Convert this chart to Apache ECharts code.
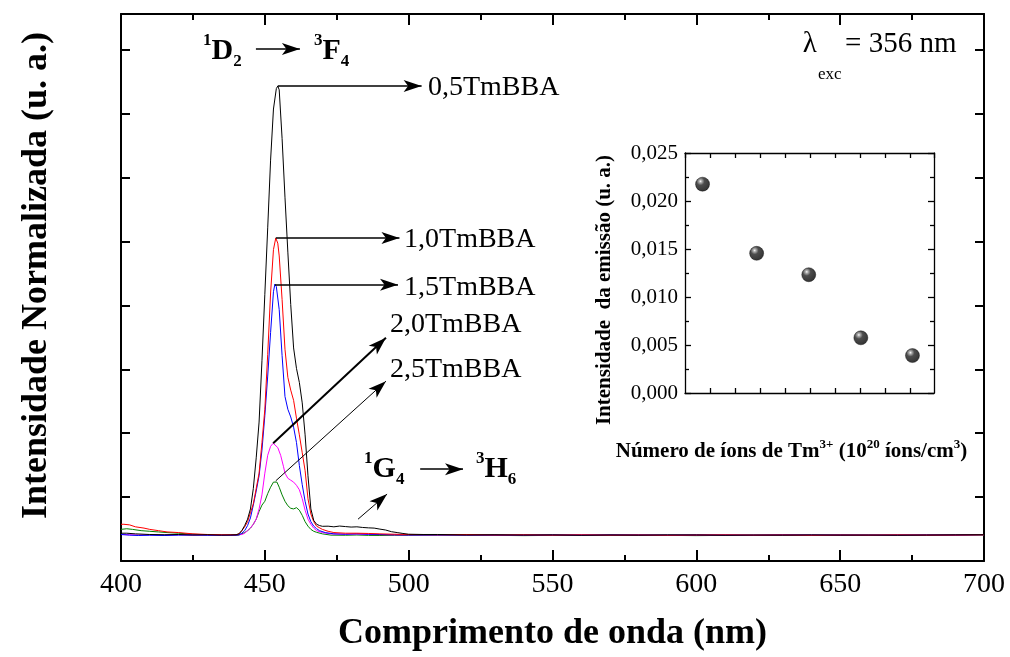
<!DOCTYPE html>
<html>
<head>
<meta charset="utf-8">
<script src="https://cdn.jsdelivr.net/npm/echarts@6/dist/echarts.min.js"></script>
<style>
  html, body { margin: 0; padding: 0; background: #ffffff; }
  #chart { width: 1010px; height: 657px; }
</style>
</head>
<body>
<div id="chart"></div>
<script>
// Emission spectra (wavelength in nm, normalised intensity in arbitrary units)
const spec05 = [
  [400,0.030],[402,0.030],[405,0.025],[410,0.020],[415,0.018],[420,0.020],[425,0.016],[430,0.018],[435,0.015],[438,0.016],
  [440,0.018],[441,0.025],[442,0.050],[443,0.090],[444,0.140],[445,0.220],[446,0.380],[447,0.620],[448,0.900],[449,1.380],
  [450,1.900],[451,2.420],[452,2.950],[453,3.350],[454,3.510],[454.5,3.530],[455,3.500],[456,3.120],[457,2.660],[458,2.230],
  [459,1.820],[460,1.480],[461,1.320],[462,1.210],[463,1.050],[464,0.800],[465,0.480],[466,0.220],[467,0.130],[468,0.100],
  [469,0.090],[470,0.084],[472,0.085],[474,0.080],[476,0.086],[478,0.082],[480,0.078],[482,0.080],[484,0.075],[486,0.072],
  [488,0.070],[490,0.062],[492,0.055],[494,0.042],[496,0.035],[498,0.028],[500,0.022],[505,0.020],[510,0.020],[520,0.016],
  [530,0.018],[540,0.015],[550,0.017],[560,0.014],[570,0.016],[580,0.015],[590,0.017],[600,0.016],[610,0.014],[620,0.016],
  [630,0.015],[640,0.017],[650,0.015],[660,0.016],[670,0.014],[680,0.016],[690,0.017],[700,0.018]
];
const spec10 = [
  [400,0.100],[401,0.100],[403,0.095],[405,0.080],[408,0.070],[410,0.060],[413,0.050],[416,0.040],[420,0.035],[425,0.025],
  [430,0.020],[435,0.018],[440,0.018],[441,0.025],[442,0.050],[443,0.080],[444,0.120],[445,0.190],[446,0.260],[447,0.380],
  [448,0.500],[449,0.740],[450,1.000],[451,1.430],[452,1.910],[453,2.250],[453.8,2.340],[454.5,2.300],[455,2.200],[456,1.860],
  [457,1.470],[458,1.250],[459,1.150],[460,1.070],[461,0.930],[462,0.800],[463,0.660],[464,0.520],[465,0.300],[466,0.180],
  [467,0.120],[468,0.085],[470,0.060],[472,0.045],[474,0.035],[478,0.030],[482,0.030],[486,0.028],[490,0.025],[495,0.022],
  [500,0.020],[510,0.018],[520,0.020],[530,0.016],[540,0.018],[550,0.015],[560,0.017],[570,0.015],[580,0.016],[590,0.014],
  [600,0.016],[610,0.017],[620,0.015],[630,0.016],[640,0.014],[650,0.016],[660,0.015],[670,0.017],[680,0.015],[690,0.016],[700,0.018]
];
const spec15 = [
  [400,0.020],[403,0.015],[406,0.012],[410,0.014],[415,0.012],[420,0.015],[425,0.016],[430,0.014],[435,0.015],[440,0.015],
  [441,0.018],[442,0.030],[443,0.050],[444,0.090],[445,0.150],[446,0.250],[447,0.360],[448,0.480],[449,0.680],[450,0.950],
  [451,1.260],[452,1.600],[453,1.920],[453.5,1.980],[454,1.960],[455,1.780],[456,1.420],[457,1.100],[458,1.000],[459,0.940],
  [460,0.860],[461,0.740],[462,0.560],[463,0.410],[464,0.280],[465,0.180],[466,0.120],[467,0.085],[468,0.065],[469,0.050],
  [471,0.035],[474,0.025],[478,0.022],[482,0.025],[486,0.022],[490,0.020],[495,0.018],[500,0.017],[510,0.016],[520,0.018],
  [530,0.015],[540,0.017],[550,0.016],[560,0.014],[570,0.017],[580,0.016],[590,0.015],[600,0.017],[610,0.015],[620,0.014],
  [630,0.016],[640,0.015],[650,0.017],[660,0.014],[670,0.016],[680,0.015],[690,0.017],[700,0.019]
];
const spec20 = [
  [400,0.020],[403,0.018],[406,0.016],[410,0.018],[415,0.015],[420,0.018],[425,0.015],[430,0.016],[435,0.014],[440,0.016],
  [442,0.020],[443,0.030],[444,0.050],[445,0.070],[446,0.100],[447,0.140],[448,0.220],[449,0.330],[450,0.500],[451,0.640],
  [452,0.710],[452.9,0.734],[453.5,0.730],[454.5,0.700],[455.5,0.640],[456.5,0.550],[457,0.500],[458,0.460],[459,0.445],[460,0.430],
  [461,0.405],[462,0.370],[463,0.300],[464,0.210],[465,0.140],[466,0.100],[467,0.070],[468,0.050],[470,0.035],[473,0.025],
  [478,0.022],[482,0.024],[486,0.020],[490,0.019],[495,0.017],[500,0.016],[510,0.017],[520,0.015],[530,0.016],[540,0.014],
  [550,0.016],[560,0.017],[570,0.015],[580,0.016],[590,0.014],[600,0.015],[610,0.016],[620,0.015],[630,0.017],[640,0.016],
  [650,0.014],[660,0.016],[670,0.015],[680,0.017],[690,0.015],[700,0.018]
];
const spec25 = [
  [400,0.060],[402,0.065],[404,0.060],[407,0.050],[410,0.045],[413,0.040],[416,0.035],[420,0.030],[425,0.022],[430,0.018],
  [435,0.015],[440,0.012],[441,0.015],[442,0.025],[443,0.035],[444,0.050],[445,0.070],[446,0.100],[447,0.140],[448,0.200],
  [449,0.250],[450,0.280],[451,0.340],[452,0.390],[453,0.430],[453.5,0.440],[454.2,0.430],[455,0.390],[456,0.330],[457,0.280],
  [458,0.245],[459,0.225],[460,0.220],[461,0.230],[462,0.210],[463,0.170],[464,0.120],[465,0.085],[466,0.060],[467,0.045],
  [468,0.037],[470,0.025],[473,0.015],[478,0.014],[482,0.016],[486,0.013],[490,0.012],[495,0.013],[500,0.012],[510,0.014],
  [520,0.012],[530,0.013],[540,0.011],[550,0.013],[560,0.012],[570,0.014],[580,0.012],[590,0.013],[600,0.011],[610,0.013],
  [620,0.012],[630,0.014],[640,0.012],[650,0.013],[660,0.012],[670,0.014],[680,0.013],[690,0.014],[700,0.016]
];

// Inset: emission intensity versus Tm3+ ion content
const ionDensity = [1.10, 2.18, 3.22, 4.26, 5.29];
const emissionIntensity = [0.02175, 0.01455, 0.01232, 0.00575, 0.0039];

const sampleNames = ['0,5TmBBA', '1,0TmBBA', '1,5TmBBA', '2,0TmBBA', '2,5TmBBA'];
const sampleColors = ['#000000', '#ff0000', '#0000ff', '#ff00ff', '#008000'];
const spectra = [spec05, spec10, spec15, spec20, spec25];

const SERIF = '"Liberation Serif", "Times New Roman", serif';

const yMin = -0.1875, yMax = 4.09375;
const wMin = 400, wMax = 700;
const nMin = 0.75, nMax = 5.72;
const iMin = 0, iMax = 0.025;

const chart = echarts.init(document.getElementById('chart'), null, { renderer: 'canvas' });

const frameLine = () => ({ show: true, onZero: false, lineStyle: { color: '#000', width: 2 } });
const insetLine = () => ({ show: true, onZero: false, lineStyle: { color: '#000', width: 1.3 } });

// text anchored at a data coordinate
function textPoint(coord, formatter, style) {
  return {
    coord: coord,
    symbol: 'circle',
    symbolSize: 0,
    label: Object.assign({
      show: true,
      position: 'right',
      distance: 0,
      formatter: formatter,
      color: '#000',
      fontFamily: SERIF,
      fontSize: 28
    }, style || {})
  };
}

const boldRich = {
  big: { fontFamily: SERIF, fontSize: 30, fontWeight: 'bold', color: '#000', lineHeight: 38 },
  sup: { fontFamily: SERIF, fontSize: 17, fontWeight: 'bold', color: '#000', verticalAlign: 'top', lineHeight: 38 },
  sub: { fontFamily: SERIF, fontSize: 17, fontWeight: 'bold', color: '#000', verticalAlign: 'bottom', lineHeight: 38 }
};

function arrow(from, to, width) {
  return [
    { coord: from, lineStyle: { color: '#000', width: width || 1.5, type: 'solid' } },
    { coord: to }
  ];
}

const annotationSeries = {
  type: 'line',
  name: 'annotations',
  data: [],
  silent: true,
  xAxisIndex: 0,
  yAxisIndex: 0,
  markLine: {
    silent: true,
    animation: false,
    symbol: ['none', 'arrow'],
    symbolSize: [9, 18],
    label: { show: false },
    data: [
      arrow([454.5, 3.53], [504.5, 3.53], 1.5),
      arrow([453.8, 2.34], [496.8, 2.34], 1.5),
      arrow([453.5, 1.975], [496.3, 1.975], 1.5),
      arrow([452.9, 0.734], [492.1, 1.56], 2),
      arrow([453.8, 0.44], [492.1, 1.22], 1),
      arrow([446.9, 3.82], [462.2, 3.82], 1.5),
      arrow([504.0, 0.531], [518.9, 0.531], 1.5),
      arrow([482.4, 0.14], [492.5, 0.336], 1)
    ]
  },
  markPoint: {
    silent: true,
    animation: false,
    data: [
      textPoint([506.7, 3.515], '0,5TmBBA'),
      textPoint([498.4, 2.33], '1,0TmBBA'),
      textPoint([498.4, 1.95], '1,5TmBBA'),
      textPoint([493.5, 1.66], '2,0TmBBA'),
      textPoint([493.5, 1.31], '2,5TmBBA'),
      textPoint([428.5, 3.80], '{sup|1}{big|D}{sub|2}', { rich: boldRich }),
      textPoint([467.1, 3.80], '{sup|3}{big|F}{sub|4}', { rich: boldRich }),
      textPoint([484.5, 0.53], '{sup|1}{big|G}{sub|4}', { rich: boldRich }),
      textPoint([523.4, 0.53], '{sup|3}{big|H}{sub|6}', { rich: boldRich }),
      textPoint([637.0, 3.855], 'λ', { fontSize: 29 }),
      textPoint([642.3, 3.62], 'exc', { fontSize: 17 }),
      textPoint([651.7, 3.855], '= 356 nm', { fontSize: 29 })
    ]
  }
};

const spectrumSeries = spectra.map((d, i) => ({
  type: 'line',
  name: sampleNames[i],
  data: d,
  xAxisIndex: 0,
  yAxisIndex: 0,
  showSymbol: false,
  symbol: 'none',
  smooth: false,
  lineStyle: { color: sampleColors[i], width: 1 },
  itemStyle: { color: sampleColors[i] },
  z: 5 - i
}));

const sphere = new echarts.graphic.RadialGradient(0.36, 0.3, 0.72, [
  { offset: 0, color: '#ffffff' },
  { offset: 0.12, color: '#a0a0a0' },
  { offset: 0.38, color: '#202020' },
  { offset: 1, color: '#000000' }
]);

const insetSeries = {
  type: 'scatter',
  name: 'Intensidade da emissão',
  xAxisIndex: 2,
  yAxisIndex: 2,
  data: ionDensity.map((n, i) => [n, emissionIntensity[i]]),
  symbol: 'circle',
  symbolSize: 14,
  itemStyle: { color: sphere, borderColor: '#000', borderWidth: 0.5 },
  z: 10
};

const tick = (len, width) => ({ show: true, inside: true, length: len, lineStyle: { color: '#000', width: width } });
const minor = (len, width) => ({ show: true, splitNumber: 2, length: len, lineStyle: { color: '#000', width: width } });
const integerLabel = v => (Math.abs(v - Math.round(v)) < 1e-9 ? String(Math.round(v)) : '');

const option = {
  animation: false,
  backgroundColor: '#ffffff',
  grid: [
    { left: 121, right: 26, top: 14, bottom: 95 },
    { left: 685, width: 249, top: 153, height: 240 }
  ],
  xAxis: [
    { // bottom wavelength axis
      type: 'value', gridIndex: 0, position: 'bottom', min: wMin, max: wMax, interval: 50,
      axisLine: frameLine(),
      axisTick: tick(11, 2),
      minorTick: minor(6, 2),
      axisLabel: { show: true, color: '#000', fontFamily: SERIF, fontSize: 28, margin: 10 },
      splitLine: { show: false },
      name: 'Comprimento de onda (nm)', nameLocation: 'middle', nameGap: 55,
      nameTextStyle: { color: '#000', fontFamily: SERIF, fontSize: 36, fontWeight: 'bold' }
    },
    { // top frame edge
      type: 'value', gridIndex: 0, position: 'top', min: wMin, max: wMax, interval: 50,
      axisLine: frameLine(),
      axisTick: tick(11, 2),
      minorTick: minor(6, 2),
      axisLabel: { show: false }, splitLine: { show: false }
    },
    { // inset ion density axis (half-unit ticks, integer labels)
      type: 'value', gridIndex: 1, position: 'bottom', min: nMin, max: nMax, interval: 0.5,
      axisLine: insetLine(),
      axisTick: tick(5, 1.3),
      axisLabel: {
        show: true, color: '#000', fontFamily: SERIF, fontSize: 21, margin: 8,
        showMinLabel: false, showMaxLabel: false, formatter: integerLabel
      },
      splitLine: { show: false },
      name: '{b|Número de íons de Tm}{s|3+}{b| (10}{s|20}{b| íons/cm}{s|3}{b|)}',
      nameLocation: 'middle', nameGap: 45,
      nameTextStyle: {
        padding: [0, 36, 0, 0],
        rich: {
          b: { fontFamily: SERIF, fontSize: 21, fontWeight: 'bold', color: '#000', lineHeight: 27 },
          s: { fontFamily: SERIF, fontSize: 13, fontWeight: 'bold', color: '#000', verticalAlign: 'top', lineHeight: 27 }
        }
      }
    },
    { // inset top frame edge
      type: 'value', gridIndex: 1, position: 'top', min: nMin, max: nMax, interval: 0.5,
      axisLine: insetLine(),
      axisTick: tick(5, 1.3),
      axisLabel: { show: false }, splitLine: { show: false }
    }
  ],
  yAxis: [
    { // left intensity axis (unlabelled)
      type: 'value', gridIndex: 0, position: 'left', min: yMin, max: yMax, interval: 0.5,
      axisLine: frameLine(),
      axisTick: tick(9, 2),
      axisLabel: { show: false }, splitLine: { show: false },
      name: 'Intensidade Normalizada (u. a.)', nameLocation: 'middle', nameGap: 66, nameRotate: 90,
      nameTextStyle: { color: '#000', fontFamily: SERIF, fontSize: 36, fontWeight: 'bold', padding: [0, 0, 0, 24] }
    },
    { // right frame edge
      type: 'value', gridIndex: 0, position: 'right', min: yMin, max: yMax, interval: 0.5,
      axisLine: frameLine(),
      axisTick: tick(9, 2),
      axisLabel: { show: false }, splitLine: { show: false }
    },
    { // inset intensity axis
      type: 'value', gridIndex: 1, position: 'left', min: iMin, max: iMax, interval: 0.005,
      axisLine: insetLine(),
      axisTick: tick(6, 1.3),
      minorTick: minor(4, 1.3),
      axisLabel: {
        show: true, color: '#000', fontFamily: SERIF, fontSize: 21, margin: 7,
        formatter: v => v.toFixed(3).replace('.', ',')
      },
      splitLine: { show: false },
      name: 'Intensidade  da emissão (u. a.)', nameLocation: 'middle', nameGap: 70, nameRotate: 90,
      nameTextStyle: { color: '#000', fontFamily: SERIF, fontSize: 21, fontWeight: 'bold', padding: [0, 34, 0, 0] }
    },
    { // inset right frame edge
      type: 'value', gridIndex: 1, position: 'right', min: iMin, max: iMax, interval: 0.005,
      axisLine: insetLine(),
      axisTick: tick(6, 1.3),
      minorTick: minor(4, 1.3),
      axisLabel: { show: false }, splitLine: { show: false }
    }
  ],
  series: spectrumSeries.concat([annotationSeries, insetSeries])
};

chart.setOption(option);
</script>
</body>
</html>
